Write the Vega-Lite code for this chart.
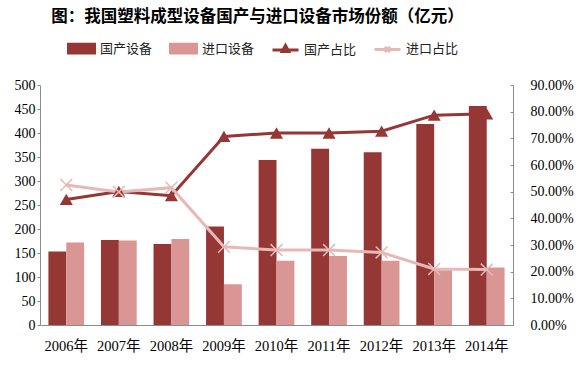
{
  "$schema": "https://vega.github.io/schema/vega-lite/v6.json",
  "width": 473,
  "height": 240,
  "autosize": "none",
  "padding": {"left": 40, "top": 85, "right": 65, "bottom": 51},
  "background": "white",
  "title": {
    "text": "图：我国塑料成型设备国产与进口设备市场份额（亿元）",
    "font": "Noto Sans CJK SC",
    "fontSize": 16.5,
    "fontWeight": "bold",
    "color": "#000000",
    "anchor": "middle",
    "dx": -19,
    "offset": 9
  },
  "config": {
    "view": {"stroke": null},
    "axis": {"labelFont": "Liberation Serif, Noto Sans CJK SC", "labelFontSize": 14, "labelColor": "#000000", "domainColor": "#8c8c8c", "tickColor": "#8c8c8c", "grid": false, "title": null}
  },
  "data": {
    "values": [
      {"year": "2006年", "series": "国产设备", "kind": "amt", "value": 153},
      {"year": "2007年", "series": "国产设备", "kind": "amt", "value": 177},
      {"year": "2008年", "series": "国产设备", "kind": "amt", "value": 169},
      {"year": "2009年", "series": "国产设备", "kind": "amt", "value": 205},
      {"year": "2010年", "series": "国产设备", "kind": "amt", "value": 344},
      {"year": "2011年", "series": "国产设备", "kind": "amt", "value": 367},
      {"year": "2012年", "series": "国产设备", "kind": "amt", "value": 360},
      {"year": "2013年", "series": "国产设备", "kind": "amt", "value": 419},
      {"year": "2014年", "series": "国产设备", "kind": "amt", "value": 456},
      {"year": "2006年", "series": "进口设备", "kind": "amt", "value": 172},
      {"year": "2007年", "series": "进口设备", "kind": "amt", "value": 176},
      {"year": "2008年", "series": "进口设备", "kind": "amt", "value": 179},
      {"year": "2009年", "series": "进口设备", "kind": "amt", "value": 85},
      {"year": "2010年", "series": "进口设备", "kind": "amt", "value": 134},
      {"year": "2011年", "series": "进口设备", "kind": "amt", "value": 144},
      {"year": "2012年", "series": "进口设备", "kind": "amt", "value": 134},
      {"year": "2013年", "series": "进口设备", "kind": "amt", "value": 114},
      {"year": "2014年", "series": "进口设备", "kind": "amt", "value": 120},
      {"year": "2006年", "series": "国产占比", "kind": "pct", "value": 0.471},
      {"year": "2007年", "series": "国产占比", "kind": "pct", "value": 0.501},
      {"year": "2008年", "series": "国产占比", "kind": "pct", "value": 0.485},
      {"year": "2009年", "series": "国产占比", "kind": "pct", "value": 0.707},
      {"year": "2010年", "series": "国产占比", "kind": "pct", "value": 0.72},
      {"year": "2011年", "series": "国产占比", "kind": "pct", "value": 0.72},
      {"year": "2012年", "series": "国产占比", "kind": "pct", "value": 0.727},
      {"year": "2013年", "series": "国产占比", "kind": "pct", "value": 0.787},
      {"year": "2014年", "series": "国产占比", "kind": "pct", "value": 0.792},
      {"year": "2006年", "series": "进口占比", "kind": "pct", "value": 0.525},
      {"year": "2007年", "series": "进口占比", "kind": "pct", "value": 0.499},
      {"year": "2008年", "series": "进口占比", "kind": "pct", "value": 0.515},
      {"year": "2009年", "series": "进口占比", "kind": "pct", "value": 0.293},
      {"year": "2010年", "series": "进口占比", "kind": "pct", "value": 0.281},
      {"year": "2011年", "series": "进口占比", "kind": "pct", "value": 0.281},
      {"year": "2012年", "series": "进口占比", "kind": "pct", "value": 0.272},
      {"year": "2013年", "series": "进口占比", "kind": "pct", "value": 0.21},
      {"year": "2014年", "series": "进口占比", "kind": "pct", "value": 0.208}
    ]
  },
  "encoding": {
    "x": {
      "field": "year",
      "type": "nominal",
      "sort": null,
      "scale": {"paddingInner": 0.32, "paddingOuter": 0.16},
      "axis": {"labelAngle": 0, "ticks": false, "labelPadding": 14, "labelFontSize": 14.5, "domainColor": "#8c8c8c"}
    }
  },
  "layer": [
    {
      "transform": [{"filter": "datum.kind == 'amt'"}],
      "mark": {"type": "bar"},
      "encoding": {
        "xOffset": {"field": "series", "type": "nominal", "sort": ["国产设备", "进口设备"], "scale": {"paddingInner": 0, "paddingOuter": 0}},
        "y": {
          "field": "value",
          "type": "quantitative",
          "scale": {"domain": [0, 500], "nice": false},
          "axis": {"values": [0, 50, 100, 150, 200, 250, 300, 350, 400, 450, 500], "orient": "left", "tickSize": 3, "labelPadding": 2}
        },
        "color": {
          "field": "series",
          "type": "nominal",
          "scale": {"domain": ["国产设备", "进口设备", "国产占比", "进口占比"], "range": ["#953735", "#d99694", "#953735", "#e6b9b8"]},
          "legend": {
            "orient": "none",
            "legendX": 27,
            "legendY": -51,
            "direction": "horizontal",
            "columns": 4,
            "title": null,
            "labelFont": "Noto Sans CJK SC",
            "labelFontSize": 13,
            "labelColor": "#222222",
            "symbolSize": 676,
            "symbolStrokeWidth": 3,
            "labelOffset": 4,
            "columnPadding": 11,
            "encode": {
              "symbols": {
                "update": {
                  "shape": {"signal": "indexof(['国产设备','进口设备'], datum.value) >= 0 ? 'M-1,-0.33H1V0.33H-1Z' : (datum.value == '国产占比' ? 'M-1,0H1M-0.25,0.12L0,-0.35L0.25,0.12Z' : 'M-1,0H1M-0.2,-0.2L0.2,0.2M0.2,-0.2L-0.2,0.2')"},
                  "fill": {"signal": "indexof(['国产设备','进口设备'], datum.value) >= 0 ? scale('color', datum.value) : (datum.value == '国产占比' ? scale('color', datum.value) : 'transparent')"},
                  "stroke": {"signal": "indexof(['国产设备','进口设备'], datum.value) >= 0 ? 'transparent' : scale('color', datum.value)"},
                  "strokeWidth": {"value": 3}
                }
              }
            }
          }
        }
      }
    },
    {
      "transform": [{"filter": "datum.kind == 'pct'"}],
      "layer": [
        {
          "mark": {"type": "line", "strokeWidth": 3},
          "encoding": {
            "color": {"field": "series", "type": "nominal"}
          }
        },
        {
          "transform": [{"filter": "datum.series == '国产占比'"}],
          "mark": {"type": "point", "shape": "triangle-up", "filled": true, "size": 170, "opacity": 1, "color": "#953735"},
          "encoding": {}
        },
        {
          "transform": [{"filter": "datum.series == '进口占比'"}],
          "mark": {"type": "point", "shape": "M-1,-1L1,1M1,-1L-1,1", "filled": false, "size": 140, "strokeWidth": 1.5, "opacity": 1, "color": "#e6b9b8"},
          "encoding": {}
        }
      ],
      "encoding": {
        "y": {
          "field": "value",
          "type": "quantitative",
          "scale": {"domain": [0, 0.9], "nice": false},
          "axis": {"orient": "right", "format": ".2%", "values": [0, 0.1, 0.2, 0.3, 0.4, 0.5, 0.6, 0.7, 0.8, 0.9], "tickSize": -3, "labelPadding": 20}
        }
      }
    }
  ],
  "resolve": {"scale": {"y": "independent"}}
}
